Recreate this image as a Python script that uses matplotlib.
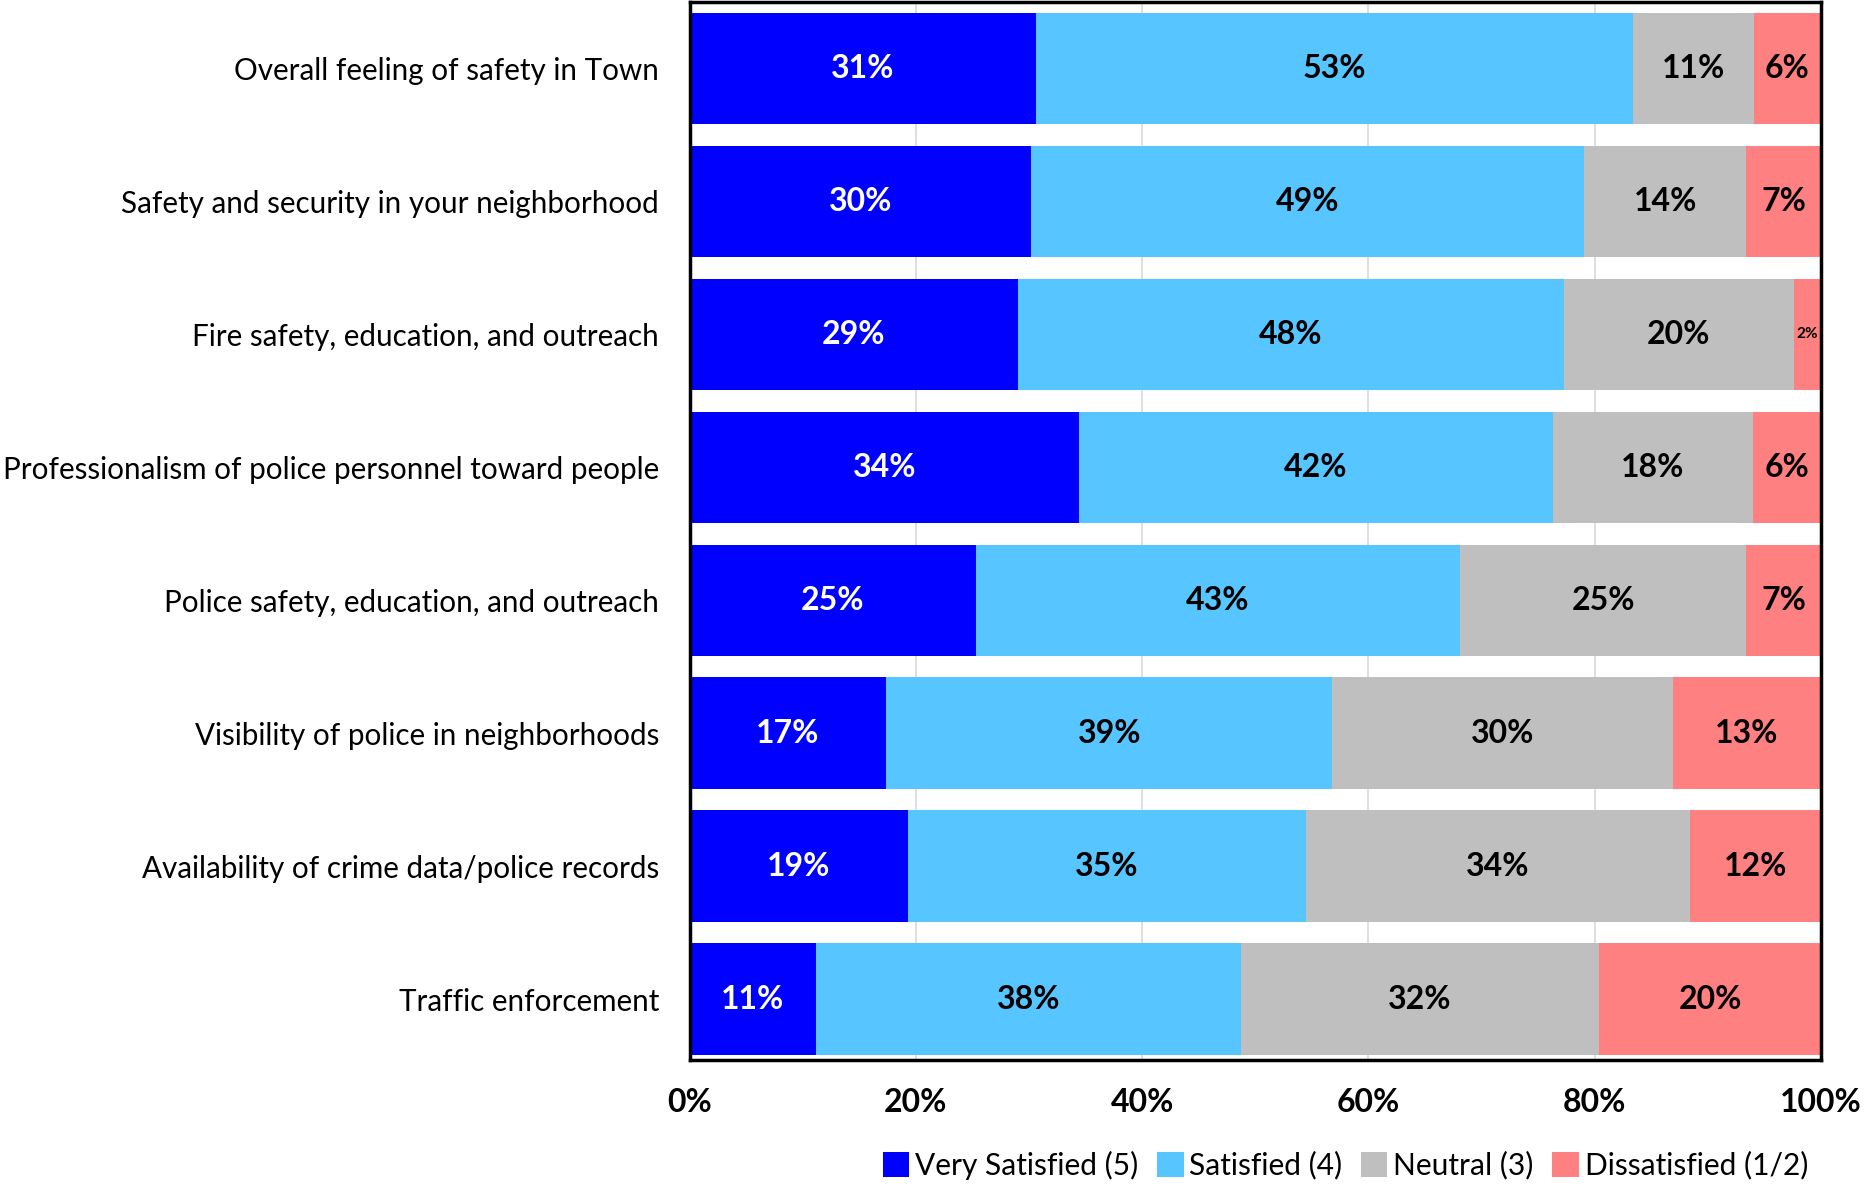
import numpy as np
import matplotlib.pyplot as plt

plt.rcParams['font.family'] = ['Lato', 'DejaVu Sans']

# survey items, top to bottom
items = [
    'Overall feeling of safety in Town',
    'Safety and security in your neighborhood',
    'Fire safety, education, and outreach',
    'Professionalism of police personnel toward people',
    'Police safety, education, and outreach',
    'Visibility of police in neighborhoods',
    'Availability of crime data/police records',
    'Traffic enforcement',
]

# percent of respondents per rating
very_satisfied = [30.6, 30.2, 29.0, 34.4, 25.3, 17.4, 19.3, 11.2]
satisfied = [52.8, 48.9, 48.3, 41.9, 42.8, 39.4, 35.2, 37.5]
neutral = [10.7, 14.3, 20.3, 17.7, 25.3, 30.1, 33.9, 31.7]
dissatisfied = [5.9, 6.6, 2.4, 6.0, 6.6, 13.1, 11.6, 19.6]

series = [
    ('Very Satisfied (5)', very_satisfied, '#0000FF', 'white'),
    ('Satisfied (4)', satisfied, '#57C5FF', 'black'),
    ('Neutral (3)', neutral, '#BFBFBF', 'black'),
    ('Dissatisfied (1/2)', dissatisfied, '#FF8080', 'black'),
]

fig = plt.figure(figsize=(18.71, 11.84), dpi=100)
ax = fig.add_axes([0.3686, 0.1048, 0.6046, 0.8932])

y = np.arange(len(items))
left = np.zeros(len(items))
for name, vals, color, txt in series:
    vals = np.array(vals)
    ax.barh(y, vals, left=left, height=0.835, color=color, label=name, zorder=2)
    for yi, l, v in zip(y, left, vals):
        size = 23 if v >= 4 else 11
        ax.text(l + v / 2, yi, f'{int(v + 0.5)}%', ha='center', va='center',
                color=txt, fontsize=size, fontweight='bold', zorder=3)
    left += vals

ax.set_xlim(0, 100)
ax.set_ylim(7.458, -0.494)
ax.set_yticks(y)
ax.set_yticklabels(items, fontsize=21.3)
ax.set_xticks([0, 20, 40, 60, 80, 100])
ax.set_xticklabels(['0%', '20%', '40%', '60%', '80%', '100%'], fontsize=23, fontweight='bold')
ax.tick_params(axis='both', length=0)
ax.tick_params(axis='x', pad=20)
ax.tick_params(axis='y', pad=22)
ax.grid(axis='x', color='#D9D9D9', linewidth=1.2, zorder=0)
for s in ax.spines.values():
    s.set_linewidth(2.5)
    s.set_color('black')

fig.legend(loc='center', bbox_to_anchor=(0.719, 0.016), ncol=4, frameon=False,
           fontsize=21.5, handlelength=0.9, handleheight=0.9, handletextpad=0.2,
           columnspacing=0.6)

fig.savefig('out.png', dpi=100)
